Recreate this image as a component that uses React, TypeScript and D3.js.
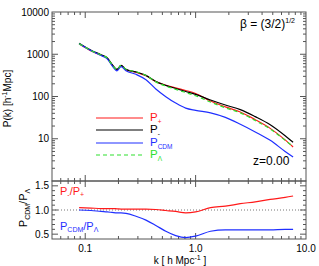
import React from 'react';
import * as d3 from 'd3';

// wavenumbers k [h/Mpc] where the curves were read
const kVals = [0.088, 0.113, 0.139, 0.158, 0.175, 0.194, 0.211, 0.234, 0.288, 0.355, 0.436, 0.537, 0.66, 0.813, 1.0, 1.365, 1.86, 2.54, 3.47, 4.74, 6.47, 7.64];

// power spectra (top panel)
const pPlus = [1740, 1200, 945, 802, 561, 428, 536, 430, 375, 310, 225, 185, 160, 139, 118, 78, 57, 43, 28.3, 17.6, 9.4, 6.4];
const pMinus = [1830, 1245, 973, 826, 578, 439, 547, 439, 383, 316, 227, 183, 155, 131, 112, 82.5, 62.8, 49, 33.4, 21.5, 11.8, 8.25];
const pCDM = [1780, 1220, 930, 782, 537, 406, 512, 409, 335, 249, 151, 99, 70, 53, 47, 41, 32, 22, 14.5, 9.2, 5.0, 3.7];
const pLambda = [1780, 1220, 960, 815, 565, 432, 545, 440, 385, 315, 222, 176, 148, 124, 104, 74, 54, 41, 27, 17, 9.2, 6.5];

// ratios (bottom panel)
const ratioMinusPlus = [1.05, 1.04, 1.03, 1.03, 1.03, 1.025, 1.02, 1.02, 1.02, 1.02, 1.01, 0.99, 0.97, 0.94, 0.96, 1.05, 1.08, 1.13, 1.17, 1.22, 1.26, 1.29];
const ratioCdmLambda = [1.0, 0.99, 0.97, 0.96, 0.95, 0.94, 0.94, 0.93, 0.87, 0.79, 0.68, 0.56, 0.47, 0.43, 0.46, 0.56, 0.59, 0.59, 0.59, 0.59, 0.6, 0.6];

const xTicks = [0.1, 1, 10];
const xTickLabels = ['0.1', '1.0', '10.0'];
const yTopTicks = [10, 100, 1000, 10000];
const yTopTickLabels = ['10', '100', '1000', '10000'];
const yBotTicks = [0.5, 1.0, 1.5];
const yBotTickLabels = ['0.5', '1.0', '1.5'];

const RED = '#ff1a1a';
const BLACK = '#000';
const BLUE = '#1f2fff';
const GREEN = '#2ee02e';
const AX = '#555';
const FONT = 'Liberation Sans, Arial, Helvetica, sans-serif';

export default function App() {
  const left = 52, right = 306;
  const topY0 = 12, topY1 = 181;
  const botY0 = 181, botY1 = 239;

  const x = d3.scaleLog().domain([0.05, 10]).range([left, right]);
  const yTop = d3.scaleLog().domain([1, 10000]).range([topY1, topY0]);
  const yBot = d3.scaleLinear().domain([0.4, 1.6]).range([botY1, botY0]);

  const lineTop = (vals: number[]) =>
    d3.line<number>().x((_, i) => x(kVals[i])).y(d => yTop(d)).curve(d3.curveMonotoneX)(vals) || '';
  const lineBot = (vals: number[]) =>
    d3.line<number>().x((_, i) => x(kVals[i])).y(d => yBot(d)).curve(d3.curveMonotoneX)(vals) || '';

  // minor tick values for log axes
  const xMinor: number[] = [];
  [0.01, 0.1, 1].forEach(dec => { for (let m = 2; m <= 9; m++) { const v = dec * m; if (v > 0.05 && v < 10) xMinor.push(v); } });
  const yMinor: number[] = [];
  [1, 10, 100, 1000].forEach(dec => { for (let m = 2; m <= 9; m++) yMinor.push(dec * m); });
  const yBotMinor = [0.6, 0.7, 0.8, 0.9, 1.1, 1.2, 1.3, 1.4];

  const MAJ = 6, MIN = 3;

  return (
    <svg width={319} height={266} style={{ position: 'absolute', left: 0, top: 0 }} fontFamily={FONT}>
      <rect width={319} height={266} fill="#fff" />

      {/* frames */}
      <rect x={left} y={topY0} width={right - left} height={topY1 - topY0} fill="none" stroke={AX} strokeWidth={1} />
      <rect x={left} y={botY0} width={right - left} height={botY1 - botY0} fill="none" stroke={AX} strokeWidth={1} />

      {/* x ticks on every horizontal edge */}
      {[
        { y: topY0, dir: 1 }, { y: topY1, dir: -1 }, { y: botY0, dir: 1 }, { y: botY1, dir: -1 },
      ].map((e, j) => (
        <g key={'xe' + j} stroke={AX} strokeWidth={1}>
          {xTicks.filter(t => t < 10).map(t => (
            <line key={'M' + t} x1={x(t)} x2={x(t)} y1={e.y} y2={e.y + e.dir * MAJ} />
          ))}
          {xMinor.map(t => (
            <line key={'m' + t} x1={x(t)} x2={x(t)} y1={e.y} y2={e.y + e.dir * MIN} />
          ))}
        </g>
      ))}

      {/* top panel y ticks */}
      {[{ xx: left, dir: 1 }, { xx: right, dir: -1 }].map((e, j) => (
        <g key={'yt' + j} stroke={AX} strokeWidth={1}>
          {yTopTicks.filter(t => t < 10000).map(t => (
            <line key={'M' + t} x1={e.xx} x2={e.xx + e.dir * MAJ} y1={yTop(t)} y2={yTop(t)} />
          ))}
          {yMinor.map(t => (
            <line key={'m' + t} x1={e.xx} x2={e.xx + e.dir * MIN} y1={yTop(t)} y2={yTop(t)} />
          ))}
        </g>
      ))}

      {/* bottom panel y ticks */}
      {[{ xx: left, dir: 1 }, { xx: right, dir: -1 }].map((e, j) => (
        <g key={'yb' + j} stroke={AX} strokeWidth={1}>
          {yBotTicks.map(t => (
            <line key={'M' + t} x1={e.xx} x2={e.xx + e.dir * MAJ} y1={yBot(t)} y2={yBot(t)} />
          ))}
          {yBotMinor.map(t => (
            <line key={'m' + t} x1={e.xx} x2={e.xx + e.dir * MIN} y1={yBot(t)} y2={yBot(t)} />
          ))}
        </g>
      ))}

      {/* tick labels */}
      <g fontSize={10} fill="#000">
        {yTopTicks.map((t, i) => (
          <text key={'ytl' + t} x={left - 3} y={yTop(t) + 3.5} textAnchor="end">{yTopTickLabels[i]}</text>
        ))}
        {yBotTicks.map((t, i) => (
          <text key={'ybl' + t} x={left - 3} y={yBot(t) + 3.5} textAnchor="end">{yBotTickLabels[i]}</text>
        ))}
        {xTicks.map((t, i) => (
          <text key={'xtl' + t} x={x(t)} y={252} textAnchor="middle">{xTickLabels[i]}</text>
        ))}
      </g>

      {/* axis titles */}
      <text x={180} y={264} fontSize={10} textAnchor="middle">
        k [ h Mpc<tspan dy={-4} fontSize={7}>-1</tspan><tspan dy={4}> ]</tspan>
      </text>
      <text transform={`translate(11,${(topY0 + topY1) / 2 + 2}) rotate(-90)`} fontSize={10} textAnchor="middle">
        P(k) [h<tspan dy={-4} fontSize={7}>-1</tspan><tspan dy={4}>Mpc]</tspan>
      </text>
      <text transform={`translate(27,${(botY0 + botY1) / 2 - 2}) rotate(-90)`} fontSize={11} textAnchor="middle">
        P<tspan dy={3} fontSize={7}>CDM</tspan><tspan dy={-3}>/P</tspan><tspan dy={3} fontSize={7}>Λ</tspan>
      </text>

      {/* ratio = 1 reference */}
      <line x1={left} x2={right} y1={yBot(1)} y2={yBot(1)} stroke="#777" strokeWidth={1} strokeDasharray="1,2" />

      {/* top panel curves */}
      <path d={lineTop(pPlus)} fill="none" stroke={RED} strokeWidth={1.2} />
      <path d={lineTop(pMinus)} fill="none" stroke={BLACK} strokeWidth={1.2} />
      <path d={lineTop(pCDM)} fill="none" stroke={BLUE} strokeWidth={1.2} />
      <path d={lineTop(pLambda)} fill="none" stroke={GREEN} strokeWidth={1.2} strokeDasharray="4,3" />

      {/* bottom panel curves */}
      <path d={lineBot(ratioMinusPlus)} fill="none" stroke={RED} strokeWidth={1.2} />
      <path d={lineBot(ratioCdmLambda)} fill="none" stroke={BLUE} strokeWidth={1.2} />

      {/* legend */}
      {[
        { c: RED, sub: '+', y: 118, dash: undefined },
        { c: BLACK, sub: '-', y: 130, dash: undefined },
        { c: BLUE, sub: 'CDM', y: 143, dash: undefined },
        { c: GREEN, sub: 'Λ', y: 155, dash: '4,3' },
      ].map(l => (
        <g key={l.y}>
          <line x1={96} x2={143} y1={l.y} y2={l.y} stroke={l.c} strokeWidth={1.2} strokeDasharray={l.dash} />
          <text x={150} y={l.y + 3} fontSize={11.5} fill={l.c}>
            P<tspan dy={2.5} fontSize={6.5}>{l.sub}</tspan>
          </text>
        </g>
      ))}

      {/* annotations */}
      <text x={240} y={28} fontSize={12}>
        β = (3/2)<tspan dy={-5} fontSize={7}>1/2</tspan>
      </text>
      <text x={253} y={165} fontSize={12}>z=0.00</text>

      <text x={60} y={195} fontSize={11} fill={RED}>
        P<tspan dy={2} fontSize={7}>-</tspan><tspan dy={-2}>/P</tspan><tspan dy={2} fontSize={7}>+</tspan>
      </text>
      <text x={60} y={230} fontSize={11} fill={BLUE}>
        P<tspan dy={2} fontSize={7}>CDM</tspan><tspan dy={-2}>/P</tspan><tspan dy={2} fontSize={7}>Λ</tspan>
      </text>
    </svg>
  );
}
